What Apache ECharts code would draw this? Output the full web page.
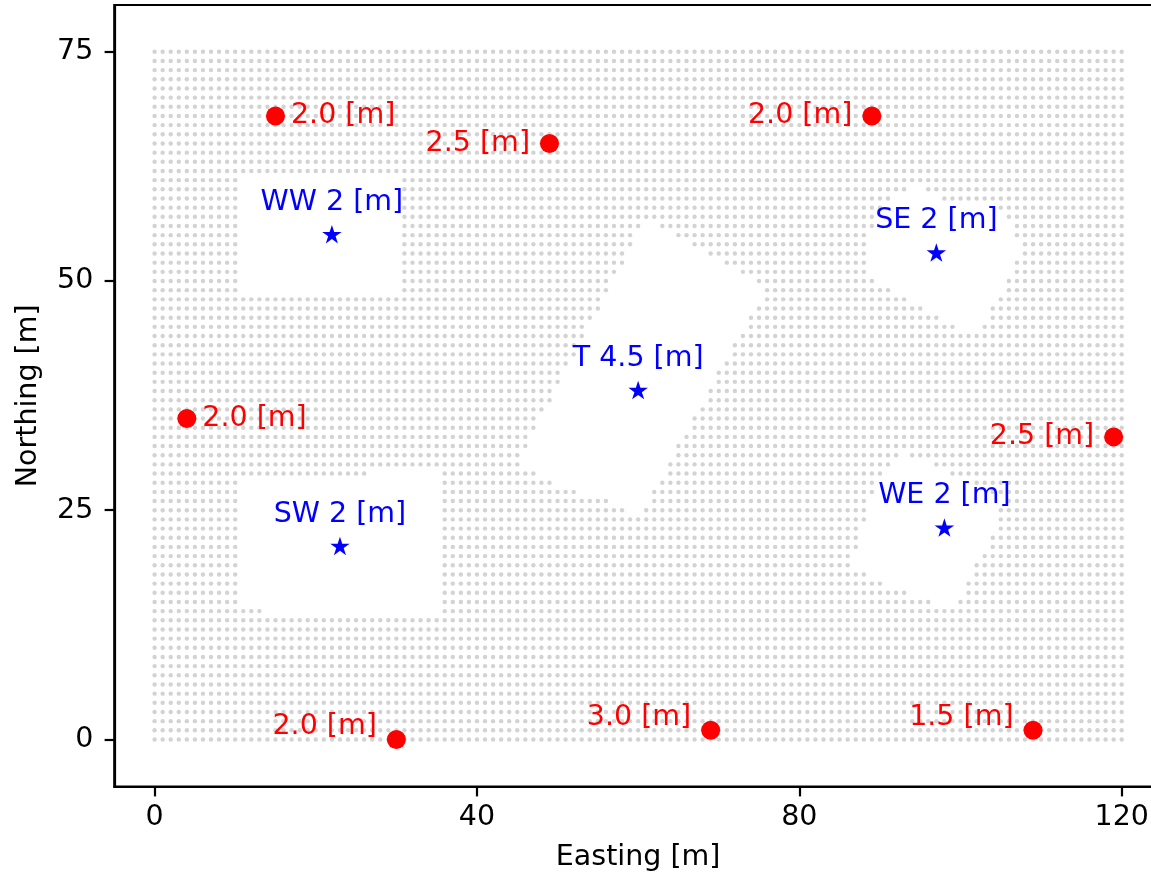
<!DOCTYPE html>
<html><head><meta charset="utf-8">
<script src="https://cdn.jsdelivr.net/npm/echarts@6/dist/echarts.min.js"></script>
<style>html,body{margin:0;padding:0;background:#fff}#c{width:1151px;height:878px}</style>
</head><body><div id="c"></div>
<script>
// Regular receptor lattice (extent + spacing) and building footprints (holes)
const meshXStart = 0, meshXEnd = 120, meshYStart = 0, meshYEnd = 75, meshStep = 1;
const buildingWW = [[10.5,48.5],[30.5,48.5],[30.5,61.5],[10.5,61.5]];
const buildingSW = [[10.5,14.5],[13.5,14.5],[13.5,13.5],[35.5,13.5],[35.5,29.5],[26.5,29.5],[26.5,28.5],[10.5,28.5]];
const buildingT  = [[61,56.75],[76,49.5],[60,24.2],[58.5,25],[56.5,26],[52.5,27],[49.5,28],[47.5,29],[45.1,30.4]];
const buildingSE = [[94.8,60.6],[97.9,59],[104.4,58.3],[107.8,53.5],[102.3,44.4],[100.3,44.4],[88.5,50.5],[88.5,52.5],[89.5,57.5],[92.5,59.4]];
const buildingWE = [[93.2,31.3],[98.8,29],[105.2,26.4],[104.6,24],[99.6,14.5],[97.5,14.5],[86.3,18.8],[89.6,28.3],[91.6,30.1]];

// Red gauges
const gaugeX = [15, 49, 89, 4, 119, 30, 69, 109];
const gaugeY = [68, 65, 68, 35, 33, 0, 1, 1];
const gaugeDepth = [2.0, 2.5, 2.0, 2.0, 2.5, 2.0, 3.0, 1.5];
const gaugeLabelSide = ['right','left','left','right','left','left','left','left'];
const gaugeLabelLift = [0, 0, 0, 0, 0, 13, 13, 13];

// Blue stations
const stationName = ['WW', 'SE', 'T', 'SW', 'WE'];
const stationX = [22, 97, 60, 23, 98];
const stationY = [55, 53, 38, 21, 23];
const stationHeight = ['2', '2', '4.5', '2', '2'];

const xTicks = [0, 40, 80, 120];
const yTicks = [0, 25, 50, 75];

const buildings = [buildingWW, buildingSW, buildingT, buildingSE, buildingWE];
function inside(p, poly) {
  let c = false;
  for (let i = 0, j = poly.length - 1; i < poly.length; j = i++) {
    const xi = poly[i][0], yi = poly[i][1], xj = poly[j][0], yj = poly[j][1];
    if (((yi > p[1]) !== (yj > p[1])) && (p[0] < (xj - xi) * (p[1] - yi) / (yj - yi) + xi)) c = !c;
  }
  return c;
}
const meshPts = [];
for (let y = meshYStart; y <= meshYEnd; y += meshStep) {
  for (let x = meshXStart; x <= meshXEnd; x += meshStep) {
    const p = [x, y];
    if (!buildings.some(b => inside(p, b))) meshPts.push(p);
  }
}

const FONT = 'DejaVu Sans';
const FS = 28.5;
const STAR = 'path://M9.511,0L11.756,6.910L19.022,6.910L13.144,11.180L15.389,18.090L9.511,13.820L3.633,18.090L5.878,11.180L0,6.910L7.266,6.910Z';

const gaugeData = gaugeX.map((x, i) => ({
  value: [x, gaugeY[i]],
  label: {
    show: true,
    position: gaugeLabelSide[i],
    distance: gaugeLabelSide[i] === 'left' ? 10 : 6,
    offset: [0, -gaugeLabelLift[i]],
    formatter: gaugeDepth[i].toFixed(1) + ' [m]'
  }
}));
const stationData = stationX.map((x, i) => ({
  value: [x, stationY[i]],
  label: { show: true, position: 'top', distance: 8, formatter: stationName[i] + ' ' + stationHeight[i] + ' [m]' }
}));

const axisLineStyle = { color: '#000', width: 2.2 };
const chart = echarts.init(document.getElementById('c'), null, { renderer: 'canvas' });
chart.setOption({
  animation: false,
  backgroundColor: '#ffffff',
  grid: {
    left: 114.3, top: 5, right: -11, bottom: 91.3,
    show: true, borderColor: '#000', borderWidth: 2.2, backgroundColor: 'transparent',
    containLabel: false, outerBoundsMode: 'none'
  },
  xAxis: {
    type: 'value', min: -5, max: 125,
    name: 'Easting [m]', nameLocation: 'middle', nameGap: 56,
    nameTextStyle: { fontFamily: FONT, fontSize: FS, color: '#000' },
    axisLine: { show: true, onZero: false, lineStyle: axisLineStyle },
    splitLine: { show: false },
    axisTick: { show: true, inside: false, length: 9.7, customValues: xTicks, lineStyle: axisLineStyle },
    axisLabel: { customValues: xTicks, margin: 16, fontFamily: FONT, fontSize: FS, color: '#000' }
  },
  yAxis: {
    type: 'value', min: -5.15, max: 80.1,
    name: 'Northing [m]', nameLocation: 'middle', nameGap: 71,
    nameTextStyle: { fontFamily: FONT, fontSize: FS, color: '#000' },
    axisLine: { show: true, onZero: false, lineStyle: axisLineStyle },
    splitLine: { show: false },
    axisTick: { show: true, inside: false, length: 9.7, customValues: yTicks, lineStyle: axisLineStyle },
    axisLabel: { customValues: yTicks, margin: 21, fontFamily: FONT, fontSize: FS, color: '#000' }
  },
  series: [
    {
      type: 'scatter', data: meshPts, symbol: 'circle', symbolSize: 4.4,
      itemStyle: { color: '#d3d3d3', opacity: 1 }, silent: true, z: 1, large: false
    },
    {
      type: 'scatter', data: gaugeData, symbol: 'circle', symbolSize: 19,
      itemStyle: { color: '#ff0000', opacity: 1 }, z: 3,
      label: { fontFamily: FONT, fontSize: FS, color: '#ff0000' }
    },
    {
      type: 'scatter', data: stationData, symbol: STAR, symbolSize: [19.5, 18.5], symbolOffset: [0, -1],
      itemStyle: { color: '#0000ff', opacity: 1 }, z: 4,
      label: { fontFamily: FONT, fontSize: FS, color: '#0000ff' }
    }
  ]
});
</script></body></html>
